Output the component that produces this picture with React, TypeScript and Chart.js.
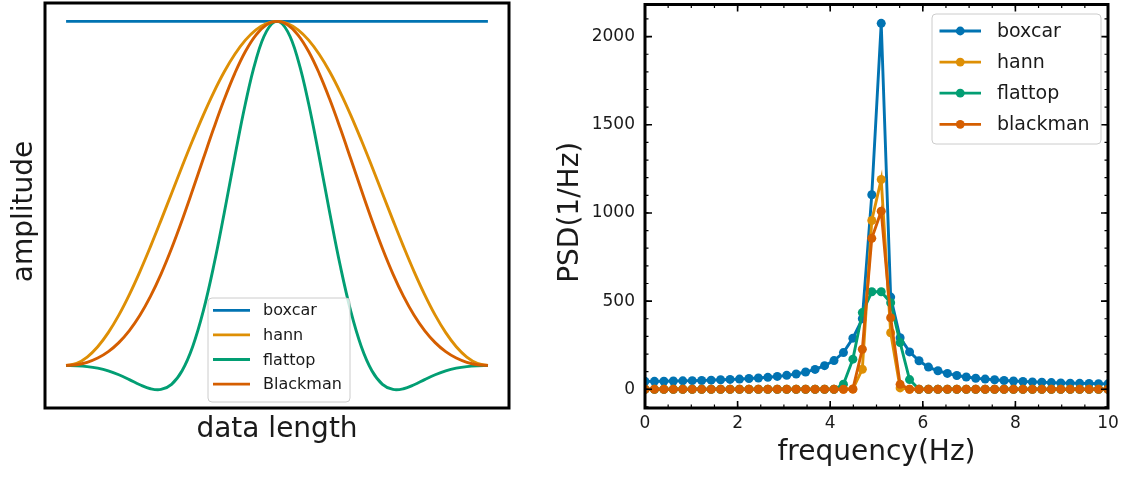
import React, { useEffect, useRef } from "react";
import { Chart, registerables } from "chart.js";

Chart.register(...registerables);

const FONT = "'DejaVu Sans', 'Liberation Sans', sans-serif";

// ---------- left panel: window shapes ----------
const windowNames = ["boxcar", "hann", "flattop", "Blackman"];
const sampleIndex = [0, 1, 2, 3, 4, 5, 6, 7, 8, 9, 10, 11, 12, 13, 14, 15, 16, 17, 18, 19, 20,
  21, 22, 23, 24, 25, 26, 27, 28, 29, 30, 31, 32, 33, 34, 35, 36, 37, 38, 39, 40];
const boxcarWin = [1, 1, 1, 1, 1, 1, 1, 1, 1, 1, 1, 1, 1, 1, 1, 1, 1, 1, 1, 1, 1,
  1, 1, 1, 1, 1, 1, 1, 1, 1, 1, 1, 1, 1, 1, 1, 1, 1, 1, 1, 1];
const hannWin = [0, 0.0062, 0.0245, 0.0545, 0.0955, 0.1464, 0.2061, 0.273, 0.3455, 0.4218, 0.5,
  0.5782, 0.6545, 0.727, 0.7939, 0.8536, 0.9045, 0.9455, 0.9755, 0.9938, 1,
  0.9938, 0.9755, 0.9455, 0.9045, 0.8536, 0.7939, 0.727, 0.6545, 0.5782, 0.5,
  0.4218, 0.3455, 0.273, 0.2061, 0.1464, 0.0955, 0.0545, 0.0245, 0.0062, 0];
const flattopWin = [-0.0004, -0.0011, -0.0033, -0.0079, -0.0156, -0.0269, -0.0411, -0.0561, -0.0677, -0.0697, -0.0547,
  -0.0153, 0.0546, 0.1571, 0.2897, 0.4441, 0.6069, 0.7607, 0.8874, 0.9709, 1.0,
  0.9709, 0.8874, 0.7607, 0.6069, 0.4441, 0.2897, 0.1571, 0.0546, -0.0153, -0.0547,
  -0.0697, -0.0677, -0.0561, -0.0411, -0.0269, -0.0156, -0.0079, -0.0033, -0.0011, -0.0004];
const blackmanWin = [0, 0.0022, 0.0092, 0.0215, 0.0402, 0.0664, 0.1014, 0.146, 0.2008, 0.2657, 0.34,
  0.4221, 0.5098, 0.6, 0.6892, 0.7736, 0.8492, 0.9125, 0.9603, 0.9899, 1,
  0.9899, 0.9603, 0.9125, 0.8492, 0.7736, 0.6892, 0.6, 0.5098, 0.4221, 0.34,
  0.2657, 0.2008, 0.146, 0.1014, 0.0664, 0.0402, 0.0215, 0.0092, 0.0022, 0];

// ---------- right panel: PSD ----------
const psdNames = ["boxcar", "hann", "flattop", "blackman"];
const freqHz = [0, 0.204, 0.408, 0.612, 0.816, 1.02, 1.224, 1.429, 1.633, 1.837,
  2.041, 2.245, 2.449, 2.653, 2.857, 3.061, 3.265, 3.469, 3.673, 3.878,
  4.082, 4.286, 4.49, 4.694, 4.898, 5.102, 5.306, 5.51, 5.714, 5.918,
  6.122, 6.327, 6.531, 6.735, 6.939, 7.143, 7.347, 7.551, 7.755, 7.959,
  8.163, 8.367, 8.571, 8.776, 8.98, 9.184, 9.388, 9.592, 9.796, 10.0];
const psdBoxcar = [45, 45, 46, 47, 48, 49, 50, 52, 54, 56,
  58, 61, 64, 68, 73, 79, 87, 98, 113, 134,
  163, 208, 290, 400, 1103, 2075, 523, 293, 212, 162,
  126, 105, 90, 78, 70, 63, 58, 54, 50, 47,
  44, 42, 40, 38, 36, 35, 34, 33, 32, 31];
const psdHann = [0, 0, 0, 0, 0, 0, 0, 0, 0, 0,
  0, 0, 0, 0, 0, 0, 0, 0, 0, 0,
  0, 0, 1, 114, 957, 1190, 321, 8, 0, 0,
  0, 0, 0, 0, 0, 0, 0, 0, 0, 0,
  0, 0, 0, 0, 0, 0, 0, 0, 0, 0];
const psdFlattop = [0, 0, 0, 0, 0, 0, 0, 0, 0, 0,
  0, 0, 0, 0, 0, 0, 0, 0, 0, 0,
  0, 29, 171, 435, 553, 553, 491, 265, 55, 0,
  0, 0, 0, 0, 0, 0, 0, 0, 0, 0,
  0, 0, 0, 0, 0, 0, 0, 0, 0, 0];
const psdBlackman = [0, 0, 0, 0, 0, 0, 0, 0, 0, 0,
  0, 0, 0, 0, 0, 0, 0, 0, 0, 0,
  0, 0, 2, 227, 856, 1010, 406, 28, 0, 0,
  0, 0, 0, 0, 0, 0, 0, 0, 0, 0,
  0, 0, 0, 0, 0, 0, 0, 0, 0, 0];
const psdXTicks = [0, 2, 4, 6, 8, 10];
const psdYTicks = [0, 500, 1000, 1500, 2000];

const colors = ["#0173B2", "#DE8F05", "#029E73", "#D55E00"];

type LegendCfg = {
  left: number; top: number; width: number; height: number;
  rowY0: number; rowGap: number; hx0: number; hx1: number; textX: number;
  fontSize: number; marker: boolean;
};

function makeDecor(
  key: string,
  ticks: null | { xMinor: number; yMinor: number },
  lg: LegendCfg,
  yTitle: { text: string; x: number; dy: number },
) {
  return {
    id: "decor_" + key,
    afterDraw(chart: any) {
      const { ctx, chartArea: a } = chart;
      ctx.save();
      ctx.fillStyle = "#1a1a1a";
      ctx.font = `28px ${FONT}`;
      ctx.textAlign = "center";
      ctx.textBaseline = "middle";
      ctx.translate(yTitle.x, (a.top + a.bottom) / 2 + yTitle.dy);
      ctx.rotate(-Math.PI / 2);
      ctx.fillText(yTitle.text, 0, 0);
      ctx.restore();
    },
    afterDatasetsDraw(chart: any) {
      const { ctx, chartArea: a } = chart;
      ctx.save();
      ctx.strokeStyle = "#000";
      if (ticks) {
        const xs = chart.scales.x;
        const ys = chart.scales.y;
        const xt = xs.ticks.map((t: any) => t.value);
        const yt = ys.ticks.map((t: any) => t.value);
        const xStep = xt[1] - xt[0];
        const yStep = yt[1] - yt[0];
        const dX = (v: number, len: number) => {
          const p = xs.getPixelForValue(v);
          if (p < a.left + 1 || p > a.right - 1) return;
          ctx.beginPath();
          ctx.moveTo(p, a.bottom); ctx.lineTo(p, a.bottom - len);
          ctx.moveTo(p, a.top); ctx.lineTo(p, a.top + len);
          ctx.stroke();
        };
        const dY = (v: number, len: number) => {
          const p = ys.getPixelForValue(v);
          if (p < a.top + 1 || p > a.bottom - 1) return;
          ctx.beginPath();
          ctx.moveTo(a.left, p); ctx.lineTo(a.left + len, p);
          ctx.moveTo(a.right, p); ctx.lineTo(a.right - len, p);
          ctx.stroke();
        };
        ctx.lineWidth = 1.2;
        for (let i = -ticks.xMinor; i <= (xt.length) * ticks.xMinor; i++) dX(xt[0] + (i * xStep) / ticks.xMinor, 3.5);
        for (let i = -ticks.yMinor * 2; i <= (yt.length + 1) * ticks.yMinor; i++) dY(yt[0] + (i * yStep) / ticks.yMinor, 3.5);
        ctx.lineWidth = 1.6;
        xt.forEach((v: number) => dX(v, 7));
        yt.forEach((v: number) => dY(v, 7));
      }
      ctx.lineWidth = 3;
      ctx.strokeRect(a.left, a.top, a.right - a.left, a.bottom - a.top);

      // legend
      const r = 4;
      ctx.beginPath();
      ctx.roundRect(lg.left, lg.top, lg.width, lg.height, r);
      ctx.fillStyle = "rgba(255,255,255,0.8)";
      ctx.fill();
      ctx.lineWidth = 1;
      ctx.strokeStyle = "#cccccc";
      ctx.stroke();
      chart.data.datasets.forEach((ds: any, i: number) => {
        const y = lg.top + lg.rowY0 + i * lg.rowGap;
        ctx.strokeStyle = ds.borderColor;
        ctx.lineWidth = 2.8;
        ctx.beginPath();
        ctx.moveTo(lg.hx0, y);
        ctx.lineTo(lg.hx1, y);
        ctx.stroke();
        if (lg.marker) {
          ctx.fillStyle = ds.borderColor;
          ctx.beginPath();
          ctx.arc((lg.hx0 + lg.hx1) / 2, y, 4.4, 0, Math.PI * 2);
          ctx.fill();
        }
        ctx.fillStyle = "#1a1a1a";
        ctx.font = `${lg.fontSize}px ${FONT}`;
        ctx.textBaseline = "middle";
        ctx.textAlign = "left";
        ctx.fillText(ds.label, lg.textX, y + 1);
      });
      ctx.restore();
    },
  };
}

const fitX = (h: number) => (s: any) => { s.height = h; s.paddingLeft = 0; s.paddingRight = 0; };
const fitY = (w: number) => (s: any) => { s.width = w; s.paddingTop = 0; s.paddingBottom = 0; };

function leftConfig(): any {
  const series = [boxcarWin, hannWin, flattopWin, blackmanWin];
  return {
    type: "line",
    data: {
      datasets: series.map((s, i) => ({
        label: windowNames[i],
        data: sampleIndex.map((x, j) => ({ x, y: s[j] })),
        borderColor: colors[i],
        backgroundColor: colors[i],
        borderWidth: 2.9,
        pointRadius: 0,
        tension: 0.4,
        order: 4 - i,
        clip: 0,
      })),
    },
    options: {
      responsive: false,
      animation: false,
      events: [],
      devicePixelRatio: 1,
      layout: { padding: { top: 3, right: 31, left: 0, bottom: 0 } },
      plugins: { legend: { display: false }, tooltip: { enabled: false } },
      scales: {
        x: {
          type: "linear", min: -2, max: 42,
          ticks: { display: false },
          grid: { display: false, drawTicks: false },
          border: { display: false },
          title: { display: true, text: "data length", color: "#1a1a1a", font: { family: FONT, size: 28 }, padding: { top: 0, bottom: 31 } },
          afterFit: fitX(70),
        },
        y: {
          type: "linear", min: -0.1236, max: 1.0535,
          ticks: { display: false },
          grid: { display: false, drawTicks: false },
          border: { display: false },
          title: { display: false },
          afterFit: fitY(45),
        },
      },
    },
    plugins: [makeDecor("left", null, {
      left: 208, top: 298, width: 142, height: 104, rowY0: 12.3, rowGap: 24.6,
      hx0: 213, hx1: 250, textX: 263, fontSize: 16, marker: false,
    }, { text: "amplitude", x: 25, dy: 6 })],
  };
}

function rightConfig(): any {
  const series = [psdBoxcar, psdHann, psdFlattop, psdBlackman];
  return {
    type: "line",
    data: {
      datasets: series.map((s, i) => ({
        label: psdNames[i],
        data: freqHz.map((x, j) => ({ x, y: s[j] })),
        borderColor: colors[i],
        backgroundColor: colors[i],
        borderWidth: 2.9,
        pointRadius: 4.5,
        pointBorderWidth: 0,
        pointBackgroundColor: colors[i],
        order: 4 - i,
        clip: 0,
      })),
    },
    options: {
      responsive: false,
      animation: false,
      events: [],
      devicePixelRatio: 1,
      layout: { padding: { top: 3, right: 18, left: 0, bottom: 0 } },
      plugins: { legend: { display: false }, tooltip: { enabled: false } },
      scales: {
        x: {
          type: "linear", min: 0, max: 10,
          afterBuildTicks: (s: any) => { s.ticks = psdXTicks.map((v) => ({ value: v })); },
          ticks: { color: "#1a1a1a", font: { family: FONT, size: 17 }, padding: 5, maxRotation: 0, autoSkip: false, callback: (v: any) => String(v) },
          grid: { display: false, drawTicks: false },
          border: { display: false },
          title: { display: true, text: "frequency(Hz)", color: "#1a1a1a", font: { family: FONT, size: 28 }, padding: { top: 0, bottom: 8 } },
          afterFit: fitX(70),
        },
        y: {
          type: "linear", min: -106, max: 2182,
          afterBuildTicks: (s: any) => { s.ticks = psdYTicks.map((v) => ({ value: v })); },
          ticks: { color: "#1a1a1a", font: { family: FONT, size: 17 }, padding: 10, autoSkip: false, callback: (v: any) => String(v) },
          grid: { display: false, drawTicks: false },
          border: { display: false },
          title: { display: false },
          afterFit: fitY(105),
        },
      },
    },
    plugins: [makeDecor("right", { xMinor: 4, yMinor: 5 }, {
      left: 392, top: 14, width: 169, height: 130, rowY0: 17, rowGap: 31.1,
      hx0: 399.5, hx1: 441, textX: 457, fontSize: 19, marker: true,
    }, { text: "PSD(1/Hz)", x: 31, dy: 6 })],
  };
}

function ChartCanvas({ make, left, width }: { make: () => any; left: number; width: number }) {
  const ref = useRef<HTMLCanvasElement>(null);
  useEffect(() => {
    const chart = new Chart(ref.current as HTMLCanvasElement, make());
    return () => chart.destroy();
  }, []);
  return (
    <canvas
      ref={ref}
      width={width}
      height={478}
      style={{ position: "absolute", left, top: 0, width, height: 478 }}
    />
  );
}

export default function App() {
  return (
    <div style={{ position: "absolute", left: 0, top: 0, width: 1126, height: 478, background: "#fff", overflow: "hidden" }}>
      <ChartCanvas make={leftConfig} left={0} width={540} />
      <ChartCanvas make={rightConfig} left={540} width={586} />
    </div>
  );
}
